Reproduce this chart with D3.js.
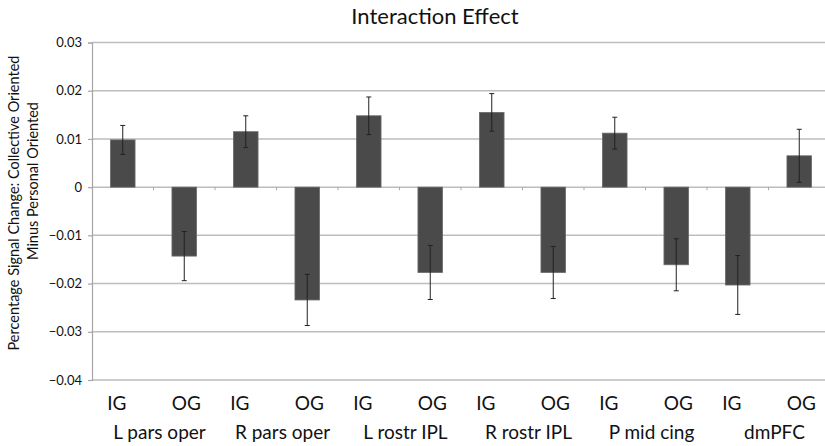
<!DOCTYPE html>
<html>
<head>
    <meta charset="utf-8">
    <title>Interaction Effect</title>
    <script src="https://d3js.org/d3.v7.min.js"></script>
    <style>
        body { margin: 0; background: #fff; }
        text { font-family: Lato, "Open Sans", sans-serif; fill: #111; }
    </style>
</head>
<body>
    <svg width="825" height="446"></svg>

    <script>
        // regions of interest, each with an IG and an OG bar
        var regions = ["L pars oper", "R pars oper", "L rostr IPL", "R rostr IPL", "P mid cing", "dmPFC"];
        var groups = ["IG", "OG"];

        // percent signal change (collective minus personal), bar order IG, OG per region
        var values = [0.0098, -0.0143, 0.0115, -0.0234, 0.0148, -0.0177,
                      0.0155, -0.0177, 0.0112, -0.0161, -0.0203, 0.0065];
        // error bar half lengths
        var errors = [0.0030, 0.0051, 0.0033, 0.0053, 0.0039, 0.0056,
                      0.0039, 0.0054, 0.0033, 0.0054, 0.0061, 0.0055];

        var yTicks = [0.03, 0.02, 0.01, 0, -0.01, -0.02, -0.03, -0.04];

        // build one row per bar
        var data = [];
        regions.forEach(function(r, i) {
            groups.forEach(function(g, j) {
                var k = i * 2 + j;
                data.push({key: r + "|" + g, region: r, group: g, value: values[k], err: errors[k]});
            });
        });

        var svg = d3.select("svg");

        // plot area: the right edge runs slightly past the picture, as in the original
        var plotLeft = 92, plotRight = 830, plotTop = 42.5, plotBottom = 380;

        var x = d3.scaleBand()
            .domain(data.map(function(d) { return d.key; }))
            .range([plotLeft, plotRight]);
        var y = d3.scaleLinear()
            .domain([-0.04, 0.03])
            .range([plotBottom, plotTop]);

        var barW = x.bandwidth() * 0.4;

        // gridlines
        svg.append("g")
            .selectAll("line")
            .data(yTicks)
            .enter().append("line")
            .attr("x1", plotLeft)
            .attr("x2", plotRight)
            .attr("y1", function(d) { return y(d); })
            .attr("y2", function(d) { return y(d); })
            .attr("stroke", "#bdbdbd")
            .attr("stroke-width", 1.5);

        // y axis
        var yAxis = svg.append("g")
            .attr("transform", "translate(" + plotLeft + ",0)")
            .call(d3.axisLeft(y)
                .tickValues(yTicks)
                .tickSize(4)
                .tickPadding(6)
                .tickFormat(function(d) {
                    if (d === 0) return "0";
                    return (d < 0 ? "\u2212" : "") + d3.format(".2f")(Math.abs(d));
                }));
        yAxis.select(".domain").attr("stroke", "#a6a6a6").attr("stroke-width", 1.2);
        yAxis.selectAll(".tick line").attr("stroke", "#a6a6a6").attr("stroke-width", 1.2);
        yAxis.selectAll(".tick text")
            .style("font-family", "Lato, sans-serif")
            .style("font-size", "13px")
            .attr("fill", "#222");

        // small ticks on the zero line between bars
        svg.append("g")
            .selectAll("line")
            .data(data.slice(1))
            .enter().append("line")
            .attr("x1", function(d) { return x(d.key); })
            .attr("x2", function(d) { return x(d.key); })
            .attr("y1", y(0))
            .attr("y2", y(0) + 3)
            .attr("stroke", "#a6a6a6")
            .attr("stroke-width", 1);

        // bars
        svg.append("g")
            .selectAll("rect")
            .data(data)
            .enter().append("rect")
            .attr("x", function(d) { return x(d.key) + (x.bandwidth() - barW) / 2; })
            .attr("width", barW)
            .attr("y", function(d) { return y(Math.max(0, d.value)); })
            .attr("height", function(d) { return Math.abs(y(d.value) - y(0)); })
            .attr("fill", "#4a4a4a")
            .attr("stroke", "#6a6a6a")
            .attr("stroke-width", 0.8);

        // error bars
        var eb = svg.append("g")
            .selectAll("g")
            .data(data)
            .enter().append("g")
            .attr("transform", function(d) { return "translate(" + (x(d.key) + x.bandwidth() / 2) + ",0)"; });
        eb.append("line")
            .attr("y1", function(d) { return y(d.value + d.err); })
            .attr("y2", function(d) { return y(d.value - d.err); })
            .attr("stroke", "#222")
            .attr("stroke-width", 1);
        eb.selectAll(".cap")
            .data(function(d) { return [d.value + d.err, d.value - d.err]; })
            .enter().append("line")
            .attr("class", "cap")
            .attr("x1", -2.5)
            .attr("x2", 2.5)
            .attr("y1", function(v) { return y(v); })
            .attr("y2", function(v) { return y(v); })
            .attr("stroke", "#222")
            .attr("stroke-width", 1);

        // IG / OG labels under each bar
        svg.append("g")
            .selectAll("text")
            .data(data)
            .enter().append("text")
            .attr("x", function(d) { return x(d.key) + x.bandwidth() / 2 + (d.group === "IG" ? -6 : 2); })
            .attr("y", 410)
            .attr("text-anchor", "middle")
            .style("font-size", "19px")
            .text(function(d) { return d.group; });

        // region labels
        svg.append("g")
            .selectAll("text")
            .data(regions)
            .enter().append("text")
            .attr("x", function(r) { return x(r + "|IG") + x.bandwidth() + 6; })
            .attr("y", 439)
            .attr("text-anchor", "middle")
            .style("font-size", "19px")
            .text(function(r) { return r; });

        // title
        svg.append("text")
            .attr("x", 435)
            .attr("y", 24)
            .attr("text-anchor", "middle")
            .style("font-size", "22px")
            .text("Interaction Effect");

        // y axis title, two lines
        svg.append("text")
            .attr("transform", "translate(19,203) rotate(-90)")
            .attr("text-anchor", "middle")
            .style("font-size", "14.5px")
            .text("Percentage Signal Change: Collective Oriented");
        svg.append("text")
            .attr("transform", "translate(38,181) rotate(-90)")
            .attr("text-anchor", "middle")
            .style("font-size", "14.5px")
            .text("Minus Personal Oriented");
    </script>
</body>
</html>
